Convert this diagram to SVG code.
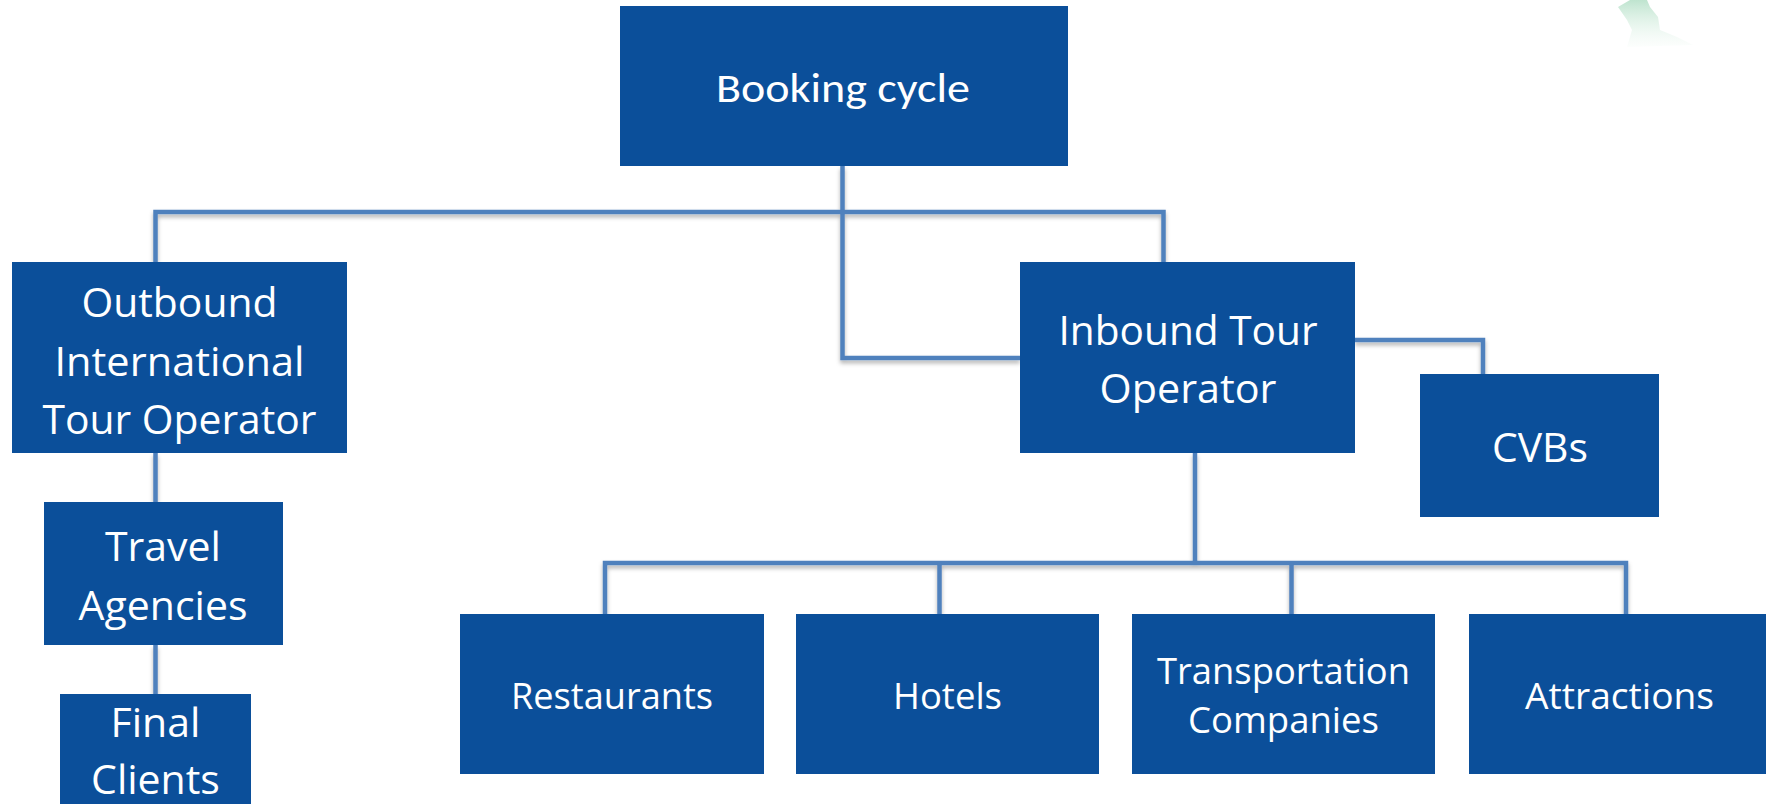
<svg xmlns="http://www.w3.org/2000/svg" width="1766" height="804" viewBox="0 0 1766 804">
  <defs>
    <filter id="lineShadow" x="-5%" y="-20%" width="110%" height="160%">
      <feDropShadow dx="0" dy="3" stdDeviation="2" flood-color="#000" flood-opacity="0.3"/>
    </filter>
    <linearGradient id="leafFade" x1="0" y1="0" x2="0" y2="1">
      <stop offset="0" stop-color="#b3dfc6" stop-opacity="0.85"/>
      <stop offset="1" stop-color="#e3f4ea" stop-opacity="0.1"/>
    </linearGradient>
    <style>
      .box { fill: #0b4f9a; }
      .lbl { fill: #ffffff; font-family: "Open Sans", "Segoe UI", "Noto Sans", sans-serif; text-anchor: middle; }
      .title { fill: #ffffff; font-family: Carlito, Lato, "Liberation Sans", sans-serif; text-anchor: middle; font-size: 40px; }
      .big { font-size: 41px; }
      .small { font-size: 36px; }
      .conn { fill: none; stroke: #4f81bd; stroke-width: 4.5; stroke-linejoin: miter; }
    </style>
  </defs>

  <rect width="1766" height="804" fill="#ffffff"/>

  <!-- faint logo fragment, top right -->
  <path d="M1618,7 L1630,0 L1647,0 L1650,7 L1658,17 L1660,30 L1677,37 L1693,45 L1627,47 L1632,30 L1627,20 Z" fill="url(#leafFade)"/>

  <!-- connectors -->
  <g id="connectors" filter="url(#lineShadow)">
    <path class="conn" d="M842.5,166 V358 H1020"/>
    <path class="conn" d="M155.5,262 V212 H1163.5 V262"/>
    <path class="conn" d="M155.5,453 V502"/>
    <path class="conn" d="M155.5,645 V694"/>
    <path class="conn" d="M1355,340 H1483 V374"/>
    <path class="conn" d="M1195,453 V563"/>
    <path class="conn" d="M605,614 V563 H1626 V614"/>
    <path class="conn" d="M939.5,563 V614"/>
    <path class="conn" d="M1291.5,563 V614"/>
  </g>

  <!-- nodes -->
  <g id="booking-cycle">
    <rect class="box" x="620" y="6" width="448" height="160"/>
    <text class="title" x="843" y="102" textLength="254" lengthAdjust="spacingAndGlyphs">Booking cycle</text>
  </g>

  <g id="outbound-operator">
    <rect class="box" x="12" y="262" width="335" height="191"/>
    <text class="lbl big" x="179.5" y="317" textLength="196" lengthAdjust="spacingAndGlyphs">Outbound</text>
    <text class="lbl big" x="179.5" y="376" textLength="250" lengthAdjust="spacingAndGlyphs">International</text>
    <text class="lbl big" x="179.5" y="434" textLength="274" lengthAdjust="spacingAndGlyphs">Tour Operator</text>
  </g>

  <g id="travel-agencies">
    <rect class="box" x="44" y="502" width="239" height="143"/>
    <text class="lbl big" x="163" y="561">Travel</text>
    <text class="lbl big" x="163" y="620">Agencies</text>
  </g>

  <g id="final-clients">
    <rect class="box" x="60" y="694" width="191" height="112"/>
    <text class="lbl big" x="155.5" y="737">Final</text>
    <text class="lbl big" x="155.5" y="794">Clients</text>
  </g>

  <g id="inbound-operator">
    <rect class="box" x="1020" y="262" width="335" height="191"/>
    <text class="lbl big" x="1188" y="345" textLength="259" lengthAdjust="spacingAndGlyphs">Inbound Tour</text>
    <text class="lbl big" x="1188" y="403" textLength="177" lengthAdjust="spacingAndGlyphs">Operator</text>
  </g>

  <g id="cvbs">
    <rect class="box" x="1420" y="374" width="239" height="143"/>
    <text class="lbl big" x="1540" y="462" textLength="96" lengthAdjust="spacingAndGlyphs">CVBs</text>
  </g>

  <g id="restaurants">
    <rect class="box" x="460" y="614" width="304" height="160"/>
    <text class="lbl small" x="612" y="709" textLength="202" lengthAdjust="spacingAndGlyphs">Restaurants</text>
  </g>

  <g id="hotels">
    <rect class="box" x="796" y="614" width="303" height="160"/>
    <text class="lbl small" x="947.5" y="709" textLength="109" lengthAdjust="spacingAndGlyphs">Hotels</text>
  </g>

  <g id="transportation">
    <rect class="box" x="1132" y="614" width="303" height="160"/>
    <text class="lbl small" x="1283.5" y="684" textLength="253" lengthAdjust="spacingAndGlyphs">Transportation</text>
    <text class="lbl small" x="1283.5" y="733" textLength="191" lengthAdjust="spacingAndGlyphs">Companies</text>
  </g>

  <g id="attractions">
    <rect class="box" x="1469" y="614" width="300" height="160"/>
    <text class="lbl small" x="1619.5" y="709" textLength="189" lengthAdjust="spacingAndGlyphs">Attractions</text>
  </g>
</svg>
